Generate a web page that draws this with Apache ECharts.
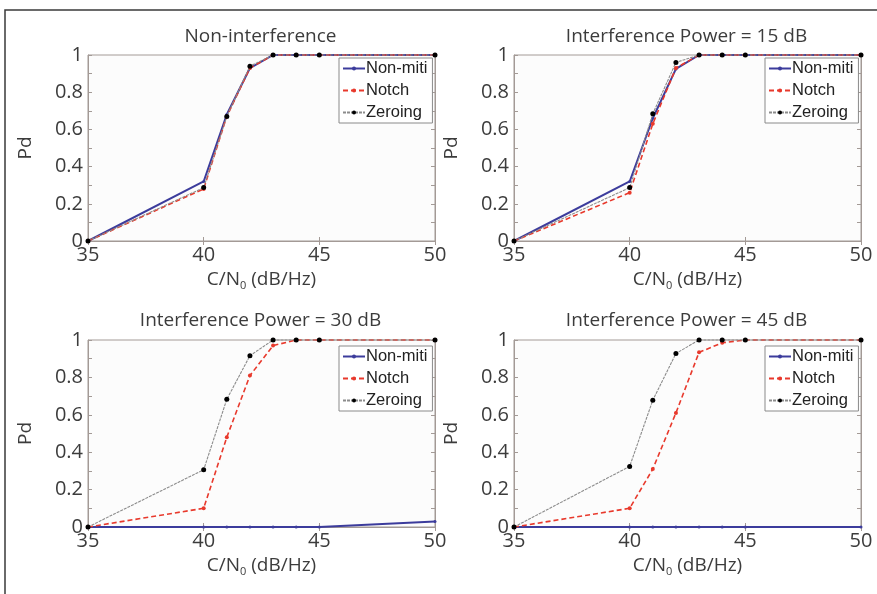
<!DOCTYPE html>
<html>
<head>
<meta charset="utf-8">
<script src="https://cdn.jsdelivr.net/npm/echarts@6/dist/echarts.min.js"></script>
<style>html,body{margin:0;padding:0;background:#fff;}#c{width:877px;height:594px;}</style>
</head>
<body>
<div id="c"></div>
<script>
// ---- data ----
const xValues = [35, 40, 41, 42, 43, 44, 45, 50];
const titles = ['Non-interference', 'Interference Power = 15 dB', 'Interference Power = 30 dB', 'Interference Power = 45 dB'];
const seriesNames = ['Non-miti', 'Notch', 'Zeroing'];
const nonMiti_0  = [0, 0.32, 0.68, 0.93, 1, 1, 1, 1];
const notch_0    = [0, 0.28, 0.67, 0.93, 1, 1, 1, 1];
const zeroing_0  = [0, 0.287, 0.67, 0.94, 1, 1, 1, 1];
const nonMiti_15 = [0, 0.32, 0.66, 0.925, 1, 1, 1, 1];
const notch_15   = [0, 0.26, 0.63, 0.93, 1, 1, 1, 1];
const zeroing_15 = [0, 0.287, 0.684, 0.96, 1, 1, 1, 1];
const nonMiti_30 = [0, 0, 0, 0, 0, 0, 0, 0.03];
const notch_30   = [0, 0.10, 0.48, 0.81, 0.97, 1, 1, 1];
const zeroing_30 = [0, 0.306, 0.683, 0.916, 1, 1, 1, 1];
const nonMiti_45 = [0, 0, 0, 0, 0, 0, 0, 0];
const notch_45   = [0, 0.10, 0.31, 0.61, 0.934, 0.985, 1, 1];
const zeroing_45 = [0, 0.324, 0.678, 0.928, 1, 1, 1, 1];
const yTickLabels = ['0', '0.2', '0.4', '0.6', '0.8', '1'];
const xTickLabels = ['35', '40', '45', '50'];

const panels = [
  [nonMiti_0, notch_0, zeroing_0],
  [nonMiti_15, notch_15, zeroing_15],
  [nonMiti_30, notch_30, zeroing_30],
  [nonMiti_45, notch_45, zeroing_45]
];

// ---- layout / style ----
const grids = [
  {left: 88, top: 55, width: 347, height: 186},
  {left: 514, top: 55, width: 347, height: 186},
  {left: 88, top: 340, width: 347, height: 187},
  {left: 514, top: 340, width: 347, height: 187}
];
const titleTops = [27, 27, 311, 311];
const FONT = 'Open Sans';
const textColor = '#3c3c3c';
const boxColor = '#a39a96';

const styles = [
  {color: '#3c3c9c', width: 2, type: 'solid', symbolSize: 3, sym: '#3c3c9c'},
  {color: '#e8392c', width: 1.6, type: [5, 3], symbolSize: 4, sym: '#e8392c'},
  {color: '#8c8c8c', width: 1.1, type: [3, 1], symbolSize: 5, sym: '#000'}
];

const option = {
  animation: false,
  backgroundColor: '#fff',
  title: [], grid: [], xAxis: [], yAxis: [], series: [], legend: [],
  graphic: [{
    type: 'rect', shape: {x: 5, y: 10, width: 900, height: 600},
    style: {fill: 'none', stroke: '#3a3a3a', lineWidth: 1.5}, z: 100
  }]
};

grids.forEach((g, i) => {
  option.grid.push(Object.assign({show: true, backgroundColor: '#fcfcfc', borderColor: boxColor, borderWidth: 1}, g));
  option.title.push({
    text: titles[i], left: g.left + g.width / 2 - 1, top: titleTops[i], textAlign: 'center', padding: 0,
    textStyle: {fontFamily: FONT, fontSize: 19, fontWeight: 'normal', color: textColor}
  });
  // bottom x axis
  option.xAxis.push({
    type: 'value', gridIndex: i, min: 35, max: 50, interval: 5, position: 'bottom',
    name: 'C/N{sub|0} (dB/Hz)', nameLocation: 'middle', nameGap: 27,
    nameTextStyle: {fontFamily: FONT, fontSize: 19, color: textColor,
      rich: {sub: {fontFamily: FONT, fontSize: 11, color: textColor, verticalAlign: 'bottom', padding: [12, 0, 0, 0]}}},
    axisLine: {show: true, lineStyle: {color: boxColor}},
    axisTick: {show: true, inside: true, length: 4, lineStyle: {color: boxColor}},
    axisLabel: {fontFamily: FONT, fontSize: 20, color: textColor, margin: 4,
      formatter: v => xTickLabels.includes(String(v)) ? String(v) : ''},
    splitLine: {show: false}
  });
  // top x axis (ticks only)
  option.xAxis.push({
    type: 'value', gridIndex: i, min: 35, max: 50, interval: 5, position: 'top',
    axisLine: {show: true, lineStyle: {color: boxColor}},
    axisTick: {show: true, inside: true, length: 4, lineStyle: {color: boxColor}},
    axisLabel: {show: false}, splitLine: {show: false}
  });
  // left y axis
  option.yAxis.push({
    type: 'value', gridIndex: i, min: 0, max: 1, interval: 0.2, position: 'left',
    name: 'Pd', nameLocation: 'middle', nameGap: 53, nameRotate: 90,
    nameTextStyle: {fontFamily: FONT, fontSize: 19, color: textColor},
    axisLine: {show: true, lineStyle: {color: boxColor}},
    axisTick: {show: true, inside: true, length: 4, lineStyle: {color: boxColor}},
    minorTick: {show: true, splitNumber: 2, length: 4, lineStyle: {color: boxColor}},
    axisLabel: {fontFamily: FONT, fontSize: 20, color: textColor, margin: 5,
      formatter: v => { const s = String(Math.round(v * 10) / 10); return yTickLabels.includes(s) ? s : ''; }},
    splitLine: {show: false}
  });
  // right y axis (ticks only)
  option.yAxis.push({
    type: 'value', gridIndex: i, min: 0, max: 1, interval: 0.2, position: 'right',
    axisLine: {show: true, lineStyle: {color: boxColor}},
    axisTick: {show: true, inside: true, length: 4, lineStyle: {color: boxColor}},
    minorTick: {show: true, splitNumber: 2, length: 4, lineStyle: {color: boxColor}},
    axisLabel: {show: false}, splitLine: {show: false}
  });
  panels[i].forEach((vals, k) => {
    const s = styles[k];
    option.series.push({
      type: 'line', name: seriesNames[k], xAxisIndex: i * 2, yAxisIndex: i * 2,
      data: xValues.map((x, j) => [x, vals[j]]),
      symbol: 'circle', symbolSize: s.symbolSize, showSymbol: true,
      itemStyle: {color: s.sym, borderWidth: 0},
      lineStyle: {color: s.color, width: s.width, type: s.type},
      clip: false, z: 3 + k
    });
  });
  option.legend.push({
    data: seriesNames, orient: 'vertical', left: g.left + g.width - 96, top: g.top + 3 + (i >= 2 ? 3 : 0),
    itemWidth: 22, itemHeight: 5, itemGap: 5, padding: [2, 5, 2, 3],
    backgroundColor: '#fff', borderColor: '#8a8a8a', borderWidth: 1,
    textStyle: {fontFamily: 'Liberation Sans', fontSize: 16.5, color: '#222', padding: [0, 0, 0, -4]},
    selectedMode: false
  });
});

const chart = echarts.init(document.getElementById('c'), null, {renderer: 'canvas'});
chart.setOption(option);
</script>
</body>
</html>
